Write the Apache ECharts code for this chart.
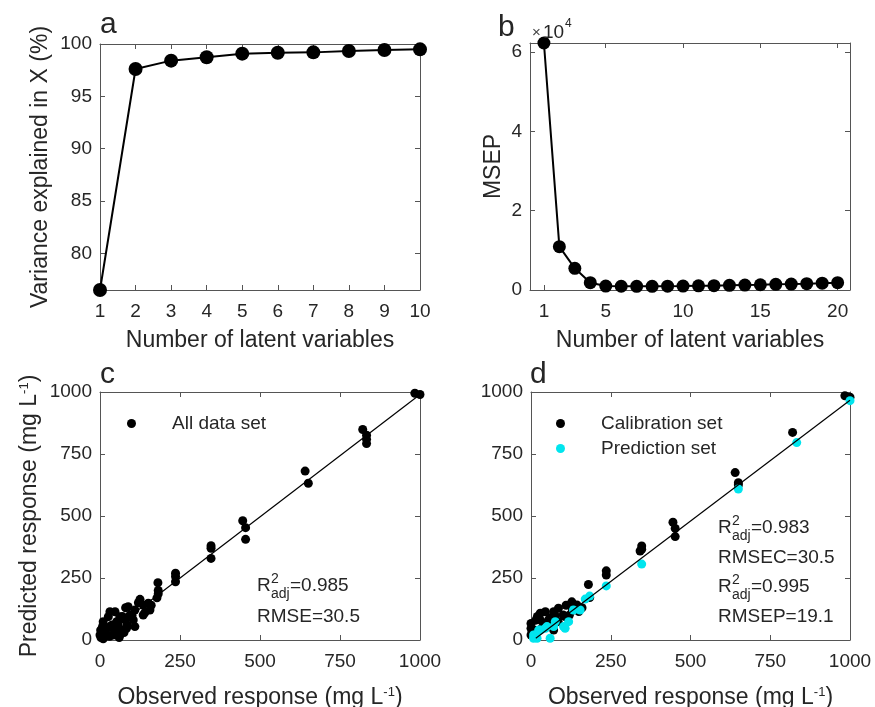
<!DOCTYPE html>
<html><head><meta charset="utf-8">
<script src="https://cdn.jsdelivr.net/npm/echarts@6/dist/echarts.min.js"></script>
<style>html,body{margin:0;padding:0;background:#fff}#c{width:875px;height:707px}</style>
</head><body><div id="c"></div>
<script>
// ---------- DATA ----------
// panel a
const lvA = [1, 2, 3, 4, 5, 6, 7, 8, 9, 10];
const varianceX = [76.5, 97.61, 98.41, 98.73, 99.08, 99.17, 99.2, 99.33, 99.43, 99.49];
const ticksAx = [1, 2, 3, 4, 5, 6, 7, 8, 9, 10];
const ticksAy = [80, 85, 90, 95, 100];
// panel b
const lvB = [1, 2, 3, 4, 5, 6, 7, 8, 9, 10, 11, 12, 13, 14, 15, 16, 17, 18, 19, 20];
const msep = [62300, 10940, 5470, 1850, 1000, 950, 930, 930, 960, 1000, 1050, 1100, 1180, 1250, 1320, 1420, 1500, 1600, 1720, 1850];
const ticksBx = [1, 5, 10, 15, 20];
const ticksBy = [0, 20000, 40000, 60000];
// panel c : all data set [observed, predicted]
const allData = [
  [984, 995], [1000, 990], [821, 849], [833, 826], [833, 809], [833, 792],
  [641, 681], [651, 632], [446, 481], [455, 453], [455, 406],
  [347, 380], [347, 370], [347, 329], [236, 269], [236, 256], [236, 235],
  [181, 231], [182, 200], [182, 186], [178, 170], [151, 148], [156, 121],
  [125, 164], [135, 141], [135, 101], [109, 121], [88, 134], [94, 101],
  [78, 81], [104, 81], [109, 54], [83, 47], [62, 94], [47, 114], [31, 114],
  [26, 94], [52, 74], [68, 40], [52, 27], [31, 54], [10, 74], [16, 33],
  [42, 20], [62, 20], [2, 40], [0, 20], [3, 10], [8, 55], [5, 30], [20, 45],
  [37, 60], [45, 40], [57, 60], [70, 95], [80, 130], [100, 100], [120, 150],
  [140, 110], [160, 140], [85, 60], [30, 15], [10, 5], [60, 10], [75, 30]
];
const fitC = [[0, 3], [1000, 990]];
// panel d
const calibration = [
  [984, 985], [1000, 979], [820, 837], [640, 675], [650, 634], [650, 625],
  [445, 475], [452, 450], [452, 417], [347, 379], [347, 366], [342, 359],
  [236, 279], [236, 262], [180, 224], [184, 171], [128, 154], [144, 141],
  [86, 128], [71, 114], [45, 114], [29, 108], [29, 81], [55, 81], [107, 94],
  [101, 101], [0, 67], [0, 47], [3, 33], [0, 20], [45, 67], [60, 90],
  [75, 100], [130, 120], [160, 130], [110, 140], [20, 95], [10, 40],
  [35, 50], [65, 60], [85, 75], [15, 80], [120, 100], [150, 115], [71, 40]
];
const prediction = [
  [1000, 965], [833, 796], [650, 609], [347, 306], [236, 218], [184, 177],
  [154, 121], [133, 121], [118, 74], [102, 54], [107, 47], [76, 74], [71, 54],
  [50, 54], [45, 47], [29, 40], [24, 40], [13, 20], [8, 20], [19, 7], [8, 7],
  [60, 7], [170, 165]
];
const fitD = [[15, 7], [1000, 967]];
const ticksCD = [0, 250, 500, 750, 1000];

// ---------- STYLE ----------
const FONT = '"Liberation Sans", Arial, Helvetica, sans-serif';
const TXT = '#262626';
const AX = '#555555';
const CYAN = '#00E5EE';

function xPair(gi, min, max, ticks, fmt, name, gap) {
  const mk = (pos) => ({
    type: 'value', gridIndex: gi, position: pos, min: min, max: max,
    splitLine: { show: false },
    axisLine: { show: true, onZero: false, lineStyle: { color: AX, width: 1 } },
    axisTick: { show: true, inside: true, length: 5, customValues: ticks, lineStyle: { color: AX } },
    axisLabel: pos === 'bottom'
      ? { show: true, customValues: ticks, formatter: fmt, margin: 12, color: TXT, fontSize: 19, fontFamily: FONT }
      : { show: false }
  });
  const b = mk('bottom');
  b.name = name; b.nameLocation = 'middle'; b.nameGap = gap;
  b.nameTextStyle = { color: TXT, fontSize: 23, fontFamily: FONT,
    rich: { sup: { fontSize: 13, verticalAlign: 'top', color: TXT, fontFamily: FONT, padding: [0, 0, 8, 0] } } };
  return [b, mk('top')];
}
function yPair(gi, min, max, ticks, fmt, name, gap) {
  const mk = (pos) => ({
    type: 'value', gridIndex: gi, position: pos, min: min, max: max,
    splitLine: { show: false },
    axisLine: { show: true, onZero: false, lineStyle: { color: AX, width: 1 } },
    axisTick: { show: true, inside: true, length: 5, customValues: ticks, lineStyle: { color: AX } },
    axisLabel: pos === 'left'
      ? { show: true, customValues: ticks, formatter: fmt, margin: 8, color: TXT, fontSize: 19, fontFamily: FONT }
      : { show: false }
  });
  const l = mk('left');
  l.name = name; l.nameLocation = 'middle'; l.nameGap = gap;
  l.nameTextStyle = { color: TXT, fontSize: 23, fontFamily: FONT,
    rich: { sup: { fontSize: 13, verticalAlign: 'top', color: TXT, fontFamily: FONT, padding: [0, 0, 8, 0] } } };
  return [l, mk('right')];
}
const idf = v => String(v);

const xAxes = [].concat(
  xPair(0, 1, 10, ticksAx, idf, 'Number of latent variables', 39),
  xPair(1, 0.1, 20.8, ticksBx, idf, 'Number of latent variables', 39),
  xPair(2, 0, 1000, ticksCD, idf, 'Observed response (mg L{sup|-1})', 46),
  xPair(3, 0, 1000, ticksCD, idf, 'Observed response (mg L{sup|-1})', 46)
);
const yAxes = [].concat(
  yPair(0, 76.5, 100, ticksAy, idf, 'Variance explained in X (%)', 48),
  yPair(1, 0, 62300, ticksBy, v => String(v / 10000), 'MSEP', 25),
  yPair(2, 0, 1000, ticksCD, idf, 'Predicted response (mg L{sup|-1})', 59),
  yPair(3, 0, 1000, ticksCD, idf, '', 60)
);

function T(text, x, y, size, extra) {
  return Object.assign({ type: 'text', x: x, y: y, z: 100,
    style: { text: text, fill: TXT, font: size + 'px ' + FONT, verticalAlign: 'middle', textAlign: 'left' } }, extra || {});
}
function radj(x, y, val) {
  return { type: 'group', x: x, y: y, children: [
    T('R', 0, 0, 19), T('2', 14, -7, 14), T('adj', 14, 8.5, 14), T('=' + val, 33, 0, 19)
  ] };
}
const legendText = { color: TXT, fontSize: 19, fontFamily: FONT, padding: [0, 0, 0, 31] };
const gridBase = { outerBoundsMode: 'none', containLabel: false };

const option = {
  animation: false,
  backgroundColor: '#ffffff',
  grid: [
    Object.assign({ left: 100, top: 44, width: 320, height: 246 }, gridBase),
    Object.assign({ left: 530, top: 43, width: 320, height: 247 }, gridBase),
    Object.assign({ left: 100, top: 392, width: 320, height: 248 }, gridBase),
    Object.assign({ left: 531, top: 392, width: 319, height: 248 }, gridBase)
  ],
  xAxis: xAxes,
  yAxis: yAxes,
  legend: [
    { data: ['All data set'], left: 122, top: 409, orient: 'vertical', icon: 'circle',
      itemWidth: 9, itemHeight: 9, itemGap: 6, selectedMode: false, textStyle: legendText },
    { data: ['Calibration set', 'Prediction set'], left: 551, top: 409, orient: 'vertical', icon: 'circle',
      itemWidth: 9, itemHeight: 9, itemGap: 6, selectedMode: false, textStyle: legendText }
  ],
  series: [
    { name: 'varA', type: 'line', xAxisIndex: 0, yAxisIndex: 0, clip: false,
      data: lvA.map((v, i) => [v, varianceX[i]]), symbol: 'circle', symbolSize: 14,
      itemStyle: { color: '#000' }, lineStyle: { color: '#000', width: 2 } },
    { name: 'msepB', type: 'line', xAxisIndex: 2, yAxisIndex: 2, clip: false,
      data: lvB.map((v, i) => [v, msep[i]]), symbol: 'circle', symbolSize: 13,
      itemStyle: { color: '#000' }, lineStyle: { color: '#000', width: 2 } },
    { name: 'All data set', type: 'scatter', xAxisIndex: 4, yAxisIndex: 4, clip: false,
      data: allData, symbol: 'circle', symbolSize: 9, itemStyle: { color: '#000', opacity: 1 } },
    { name: 'fitC', type: 'line', xAxisIndex: 4, yAxisIndex: 4, data: fitC, symbol: 'none', z: 5,
      lineStyle: { color: '#000', width: 1.2 } },
    { name: 'Calibration set', type: 'scatter', xAxisIndex: 6, yAxisIndex: 6, clip: false,
      data: calibration, symbol: 'circle', symbolSize: 9, itemStyle: { color: '#000', opacity: 1 } },
    { name: 'Prediction set', type: 'scatter', xAxisIndex: 6, yAxisIndex: 6, clip: false,
      data: prediction, symbol: 'circle', symbolSize: 9, itemStyle: { color: CYAN, opacity: 1 } },
    { name: 'fitD', type: 'line', xAxisIndex: 6, yAxisIndex: 6, data: fitD, symbol: 'none', z: 5,
      lineStyle: { color: '#000', width: 1.2 } }
  ],
  graphic: [
    T('a', 100, 25, 30), T('b', 498, 28, 30), T('c', 100, 375, 30), T('d', 530, 375, 30),
    T('\u00d7', 532, 33, 15, { style: { text: '\u00d7', fill: '#444', font: '15px ' + FONT, verticalAlign: 'middle' } }),
    T('10', 543, 33, 19), T('4', 565, 24, 12),
    radj(257, 586, '0.985'), T('RMSE=30.5', 257, 617, 19),
    radj(718, 528, '0.983'), T('RMSEC=30.5', 718, 558, 19),
    radj(718, 587, '0.995'), T('RMSEP=19.1', 718, 617, 19)
  ]
};
const chart = echarts.init(document.getElementById('c'), null, { renderer: 'canvas' });
chart.setOption(option);
</script>
</body></html>
